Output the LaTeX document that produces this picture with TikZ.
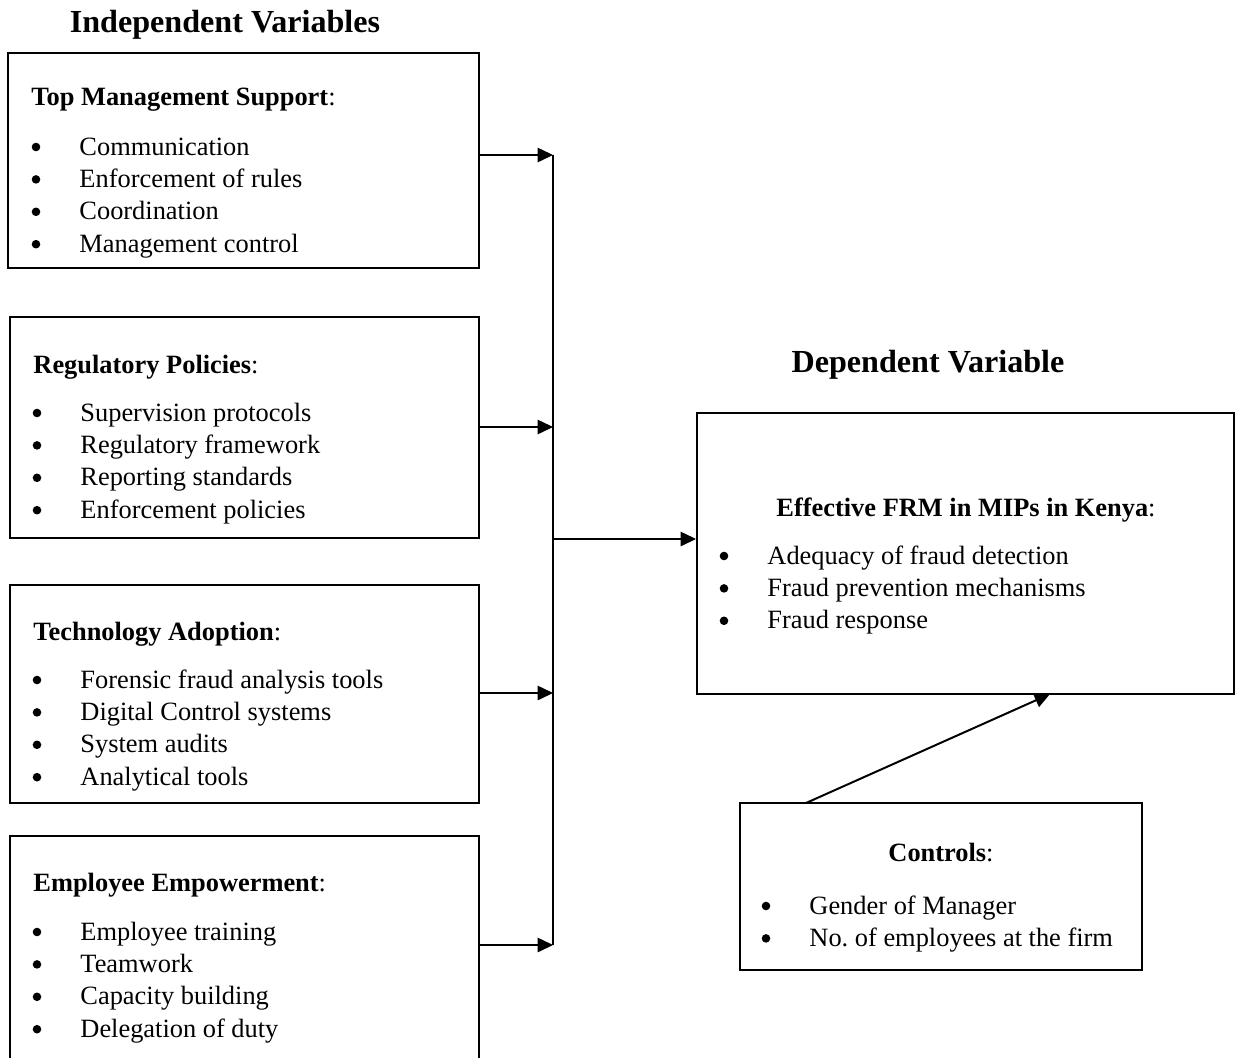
\documentclass[tikz,border=0pt]{standalone}
\usepackage{fontspec}
\setmainfont{Liberation Serif}
\usetikzlibrary{positioning,fit,arrows.meta}

\begin{document}
\begin{tikzpicture}[x=0.4545pt,y=-0.4545pt]
  \tikzstyle{varbox}=[draw, line width=0.9pt, inner sep=0pt]
  \tikzstyle{title}=[font=\bfseries\fontsize{14.6}{17}\selectfont, anchor=base, inner sep=0pt]
  \tikzstyle{head}=[font=\fontsize{12}{14}\selectfont, anchor=base west, inner sep=0pt]
  \tikzstyle{item}=[font=\fontsize{12}{14}\selectfont, anchor=base west, inner sep=0pt]
  \tikzstyle{dot}=[circle, fill, inner sep=0pt, minimum size=3.9pt]
  \tikzstyle{link}=[line width=0.5pt, -{Triangle[length=7pt,width=6.6pt]}]

  \useasboundingbox (0,0) rectangle (1236,1057);

  % titles
  \node[title] (iv) at (225,32) {Independent Variables};
  \node[title] (dv) at (928,372) {Dependent Variable};

  % independent variables
  \node[varbox, fit={(8,53) (479,268)}] (tms) {};
  \node[head] (tms-h) at (31,105) {\textbf{Top Management Support}:};
  \foreach \t [count=\i] in {Communication, Enforcement of rules, Coordination, Management control}
  {
    \node[dot] (tms-b\i) at (36,{114.6+32.4*\i}) {};
    \node[item] (tms-\i) at (79,{122.6+32.4*\i}) {\t};
  }

  \node[varbox, fit={(10,317) (479,538)}] (reg) {};
  \node[head] (reg-h) at (33,373) {\textbf{Regulatory Policies}:};
  \foreach \t [count=\i] in {Supervision protocols, Regulatory framework, Reporting standards, Enforcement policies}
  {
    \node[dot] (reg-b\i) at (37,{380.6+32.4*\i}) {};
    \node[item] (reg-\i) at (80,{388.6+32.4*\i}) {\t};
  }

  \node[varbox, fit={(10,585) (479,803)}] (tech) {};
  \node[head] (tech-h) at (33,640) {\textbf{Technology Adoption}:};
  \foreach \t [count=\i] in {Forensic fraud analysis tools, Digital Control systems, System audits, Analytical tools}
  {
    \node[dot] (tech-b\i) at (37,{647.6+32.4*\i}) {};
    \node[item] (tech-\i) at (80,{655.6+32.4*\i}) {\t};
  }

  \node[varbox, fit={(10,836) (479,1064)}] (emp) {};
  \node[head] (emp-h) at (33,891) {\textbf{Employee Empowerment}:};
  \foreach \t [count=\i] in {Employee training, Teamwork, Capacity building, Delegation of duty}
  {
    \node[dot] (emp-b\i) at (37,{899.6+32.4*\i}) {};
    \node[item] (emp-\i) at (80,{907.6+32.4*\i}) {\t};
  }

  % dependent variable
  \node[varbox, fit={(697,413) (1234,694)}] (frm) {};
  \node[head, anchor=base] (frm-h) at (966,516) {\textbf{Effective FRM in MIPs in Kenya}:};
  \foreach \t [count=\i] in {Adequacy of fraud detection, Fraud prevention mechanisms, Fraud response}
  {
    \node[dot] (frm-b\i) at (724,{523.6+32.4*\i}) {};
    \node[item] (frm-\i) at (767,{531.6+32.4*\i}) {\t};
  }

  % controls
  \node[varbox, fit={(740,803) (1142,970)}] (ctl) {};
  \node[head, anchor=base] (ctl-h) at (941,861) {\textbf{Controls}:};
  \foreach \t [count=\i] in {Gender of Manager, No.\ of employees at the firm}
  {
    \node[dot] (ctl-b\i) at (766,{873.6+32.4*\i}) {};
    \node[item] (ctl-\i) at (809,{881.6+32.4*\i}) {\t};
  }

  % connectors
  \coordinate (bus1) at (553,155);
  \coordinate (bus2) at (553,427);
  \coordinate (bus3) at (553,693);
  \coordinate (bus4) at (553,945);
  \coordinate (bus-out) at (553,539);
  \coordinate (ctl-out) at (806,803);
  \coordinate (frm-in) at (1050,694);

  \draw[line width=0.5pt] (bus1) -- (bus4);
  \draw[link] (tms.east |- bus1) -- (bus1);
  \draw[link] (reg.east |- bus2) -- (bus2);
  \draw[link] (tech.east |- bus3) -- (bus3);
  \draw[link] (emp.east |- bus4) -- (bus4);
  \draw[link] (bus-out) -- (frm.west |- bus-out);
  \draw[link, line width=0.9pt] (ctl-out) -- (frm-in);
\end{tikzpicture}
\end{document}
